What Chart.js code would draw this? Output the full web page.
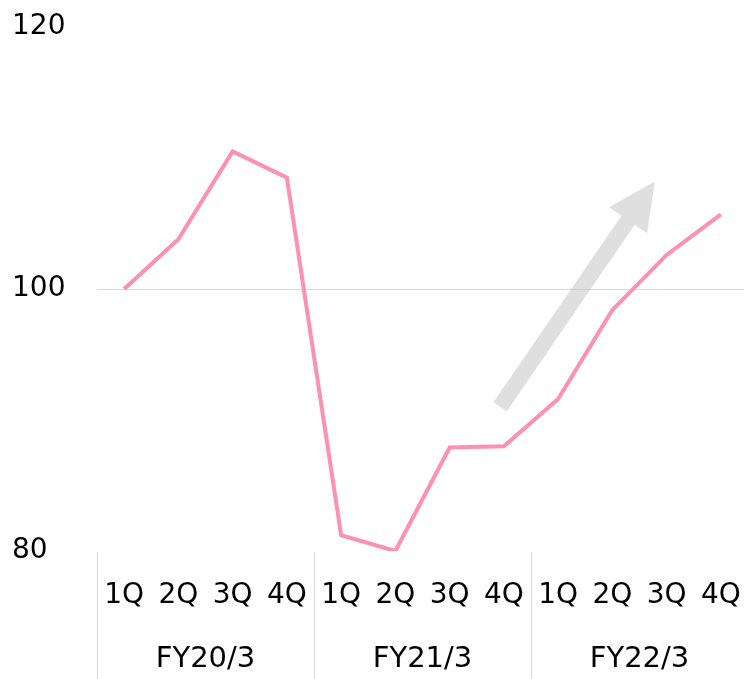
<!DOCTYPE html>
<html>
<head>
<meta charset="utf-8">
<script src="https://cdn.jsdelivr.net/npm/chart.js@4.4.1/dist/chart.umd.min.js"></script>
<style>
  html, body { margin: 0; padding: 0; background: #fff; overflow: hidden; }
  #wrap { width: 748px; height: 679px; position: relative; }
</style>
</head>
<body>
<div id="wrap"><canvas id="c"></canvas></div>
<script>
// ---- data ----
const quarters = ['1Q','2Q','3Q','4Q','1Q','2Q','3Q','4Q','1Q','2Q','3Q','4Q'];
const fiscalYears = ['FY20/3','FY21/3','FY22/3'];
const values = [100, 103.8, 110.5, 108.5, 81.2, 80.0, 87.9, 88.0, 91.6, 98.4, 102.6, 105.7];
const yTicks = [80, 100, 120];
// trend arrow: [category index, value] for tail and tip
const arrowTail = [6.93, 91.0];
const arrowTip = [9.78, 108.2];

const FONT = '"DejaVu Sans", Verdana, sans-serif';
const TEXT_SIZE = 28;
const GROUP_SIZE = 29;

const decor = {
  id: 'decor',
  beforeDatasetsDraw(chart) {
    const {ctx, scales: {x, y}} = chart;
    const x0 = x.getPixelForValue(arrowTail[0]), y0 = y.getPixelForValue(arrowTail[1]);
    const x1 = x.getPixelForValue(arrowTip[0]), y1 = y.getPixelForValue(arrowTip[1]);
    const dx = x1 - x0, dy = y1 - y0, len = Math.hypot(dx, dy);
    const ux = dx / len, uy = dy / len, px = -uy, py = ux;
    const shaftW = 16, headL = 47, headW = 46;
    const bx = x1 - ux * headL, by = y1 - uy * headL;
    ctx.save();
    ctx.fillStyle = 'rgba(191,191,191,0.5)';
    ctx.beginPath();
    ctx.moveTo(x0 + px * shaftW / 2, y0 + py * shaftW / 2);
    ctx.lineTo(bx + px * shaftW / 2, by + py * shaftW / 2);
    ctx.lineTo(bx + px * headW / 2, by + py * headW / 2);
    ctx.lineTo(x1, y1);
    ctx.lineTo(bx - px * headW / 2, by - py * headW / 2);
    ctx.lineTo(bx - px * shaftW / 2, by - py * shaftW / 2);
    ctx.lineTo(x0 - px * shaftW / 2, y0 - py * shaftW / 2);
    ctx.closePath();
    ctx.fill();
    ctx.restore();
  },
  afterDraw(chart) {
    const {ctx, scales: {x}, chartArea} = chart;
    const step = x.getPixelForValue(1) - x.getPixelForValue(0);
    ctx.save();
    ctx.strokeStyle = '#d9d9d9';
    ctx.lineWidth = 1;
    for (let g = 0; g <= fiscalYears.length; g++) {
      const px = Math.round(x.getPixelForValue(g * 4) - step / 2) + 0.5;
      ctx.beginPath();
      ctx.moveTo(px, chartArea.bottom + 1);
      ctx.lineTo(px, chart.height);
      ctx.stroke();
    }
    ctx.fillStyle = '#000';
    ctx.font = GROUP_SIZE + 'px ' + FONT;
    ctx.textAlign = 'center';
    ctx.textBaseline = 'middle';
    fiscalYears.forEach((fy, g) => {
      const cx = (x.getPixelForValue(g * 4) + x.getPixelForValue(g * 4 + 3)) / 2;
      ctx.fillText(fy, cx, chartArea.bottom + 108);
    });
    ctx.restore();
  }
};

new Chart(document.getElementById('c'), {
  type: 'line',
  data: {
    labels: quarters,
    datasets: [{
      data: values,
      borderColor: '#ff91ae',
      borderWidth: 4,
      pointRadius: 0,
      tension: 0,
      fill: false
    }]
  },
  options: {
    responsive: true,
    maintainAspectRatio: false,
    animation: false,
    events: [],
    layout: { padding: { top: 27, left: 12, right: 0, bottom: 0 } },
    plugins: { legend: { display: false }, tooltip: { enabled: false } },
    scales: {
      x: {
        offset: true,
        grid: { display: false, drawTicks: false },
        border: { display: false },
        ticks: {
          color: '#000',
          font: { family: FONT, size: TEXT_SIZE },
          padding: 28,
          maxRotation: 0,
          autoSkip: false
        },
        afterFit(scale) { scale.height = 128; scale.paddingLeft = 0; scale.paddingRight = 0; }
      },
      y: {
        min: 80,
        max: 120,
        afterBuildTicks(scale) { scale.ticks = yTicks.map(v => ({value: v})); },
        grid: {
          drawTicks: false,
          color: ctx => (ctx.tick && ctx.tick.value === 100) ? '#d9d9d9' : 'rgba(0,0,0,0)',
          lineWidth: 1
        },
        border: { display: false },
        ticks: {
          color: '#000',
          font: { family: FONT, size: TEXT_SIZE },
          crossAlign: 'far',
          padding: 0
        },
        afterFit(scale) { scale.width = 85; scale.paddingTop = 0; scale.paddingBottom = 0; }
      }
    }
  },
  plugins: [decor]
});
</script>
</body>
</html>
